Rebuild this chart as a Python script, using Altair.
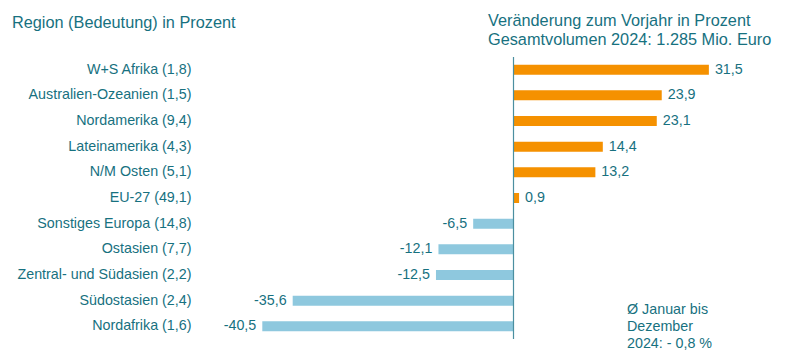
import altair as alt
import pandas as pd

regions = [
    "W+S Afrika (1,8)",
    "Australien-Ozeanien (1,5)",
    "Nordamerika (9,4)",
    "Lateinamerika (4,3)",
    "N/M Osten (5,1)",
    "EU-27 (49,1)",
    "Sonstiges Europa (14,8)",
    "Ostasien (7,7)",
    "Zentral- und Südasien (2,2)",
    "Südostasien (2,4)",
    "Nordafrika (1,6)",
]
changes = [31.5, 23.9, 23.1, 14.4, 13.2, 0.9, -6.5, -12.1, -12.5, -35.6, -40.5]
value_labels = ["31,5", "23,9", "23,1", "14,4", "13,2", "0,9",
                "-6,5", "-12,1", "-12,5", "-35,6", "-40,5"]

title_left = "Region (Bedeutung) in Prozent"
title_right = ["Veränderung zum Vorjahr in Prozent", "Gesamtvolumen 2024: 1.285 Mio. Euro"]
note_lines = ["Ø Januar bis", "Dezember", "2024: - 0,8 %"]

TEXT = "#17717f"
ORANGE = "#f59100"
BLUE = "#8ec8de"
AXIS = "#4b8fa0"
FONT = "Liberation Sans"
FS = 14.3

df = pd.DataFrame({
    "region": regions,
    "change": changes,
    "label": value_labels,
})
df["sign"] = ["pos" if v >= 0 else "neg" for v in changes]

xscale = alt.Scale(domain=[-42, 42], nice=False, zero=False)
yscale = alt.Scale(domain=regions, paddingInner=0.61, paddingOuter=0.3)

base = alt.Chart(df)

bars = base.mark_bar(size=10).encode(
    x=alt.X("change:Q", scale=xscale, axis=None),
    y=alt.Y("region:N", scale=yscale, sort=regions,
            axis=alt.Axis(title=None, domain=False, ticks=False, grid=False,
                          labelPadding=62, labelFontSize=FS, labelColor=TEXT,
                          labelFont=FONT, labelLimit=400)),
    color=alt.Color("sign:N", scale=alt.Scale(domain=["pos", "neg"], range=[ORANGE, BLUE]),
                    legend=None),
)

pos_text = base.transform_filter(alt.datum.change >= 0).mark_text(
    align="left", baseline="middle", dx=6, fontSize=FS, color=TEXT, font=FONT
).encode(
    x=alt.X("change:Q", scale=xscale),
    y=alt.Y("region:N", scale=yscale, sort=regions),
    text="label:N",
)

neg_text = base.transform_filter(alt.datum.change < 0).mark_text(
    align="right", baseline="middle", dx=-6, fontSize=FS, color=TEXT, font=FONT
).encode(
    x=alt.X("change:Q", scale=xscale),
    y=alt.Y("region:N", scale=yscale, sort=regions),
    text="label:N",
)

zero_df = pd.DataFrame({"x": [0]})
zero_rule = alt.Chart(zero_df).mark_rule(color=AXIS, strokeWidth=1.2).encode(
    x=alt.X("x:Q", scale=xscale),
    y=alt.value(0),
    y2=alt.value(282),
)

tl_df = pd.DataFrame({"t": [title_left]})
t_left = alt.Chart(tl_df).mark_text(
    align="left", baseline="middle", fontSize=16.3, color=TEXT, font=FONT
).encode(x=alt.value(-241), y=alt.value(-34.5), text="t:N")

tr_df = pd.DataFrame({"t": [title_right]})
t_right = alt.Chart(tr_df).mark_text(
    align="left", baseline="middle", fontSize=16.3, color=TEXT, font=FONT, lineHeight=19
).encode(x=alt.value(235), y=alt.value(-36), text="t")

note_df = pd.DataFrame({"t": [note_lines]})
note = alt.Chart(note_df).mark_text(
    align="left", baseline="middle", fontSize=FS, color=TEXT, font=FONT, lineHeight=17
).encode(x=alt.value(374), y=alt.value(253), text="t")

chart = alt.layer(bars, pos_text, neg_text, zero_rule, t_left, t_right, note).properties(
    width=521,
    height=282,
    autosize=alt.AutoSizeParams(type="none"),
    padding={"left": 245, "top": 49, "right": 10, "bottom": 12},
    background="white",
).configure_view(stroke=None, strokeWidth=0)

chart.save("out.html", embed_options={"renderer": "svg", "actions": False})
